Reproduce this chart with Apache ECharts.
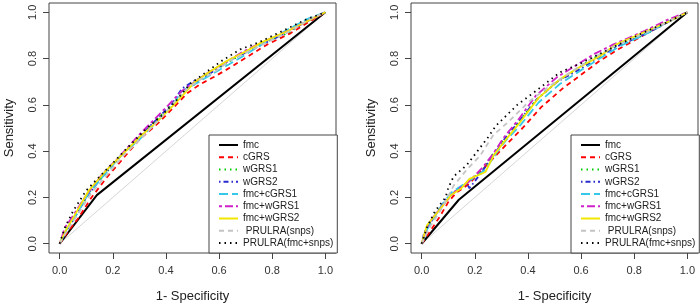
<!DOCTYPE html>
<html>
<head>
<meta charset="utf-8">
<script src="https://cdn.jsdelivr.net/npm/echarts@6/dist/echarts.min.js"></script>
<style>
  html, body { margin: 0; padding: 0; background: #fff; }
  #roc { width: 700px; height: 308px; }
</style>
</head>
<body>
<div id="roc"></div>
<script>
// legend names, in drawing order
var names = ['fmc', 'cGRS', 'wGRS1', 'wGRS2', 'fmc+cGRS1', 'fmc+wGRS1', 'fmc+wGRS2', ' PRULRA(snps)', 'PRULRA(fmc+snps)'];
var ticks = [0, 0.2, 0.4, 0.6, 0.8, 1.0];
var diagonal = [[0, 0], [1, 1]];

// left panel curves, [1-specificity, sensitivity]
var leftFmc = [[0, 0], [0.14, 0.21], [1, 1]];
var leftCgrs = [[0,0],[0.03,0.05],[0.07,0.11],[0.12,0.20],[0.18,0.29],[0.24,0.37],[0.30,0.45],[0.37,0.52],[0.43,0.59],[0.48,0.65],[0.53,0.69],[0.58,0.72],[0.64,0.76],[0.71,0.81],[0.78,0.86],[0.87,0.91],[0.94,0.96],[1,1]];
var leftWgrs1 = [[0,0],[0.02,0.06],[0.06,0.12],[0.11,0.22],[0.17,0.30],[0.23,0.38],[0.30,0.46],[0.36,0.53],[0.42,0.60],[0.47,0.66],[0.51,0.69],[0.57,0.74],[0.63,0.78],[0.70,0.83],[0.77,0.87],[0.86,0.91],[0.94,0.97],[1,1]];
var leftWgrs2 = [[0,0],[0.02,0.04],[0.05,0.10],[0.10,0.20],[0.16,0.29],[0.23,0.38],[0.29,0.45],[0.35,0.52],[0.42,0.60],[0.46,0.67],[0.50,0.70],[0.56,0.73],[0.62,0.78],[0.69,0.82],[0.76,0.86],[0.85,0.91],[0.93,0.96],[1,1]];
var leftFmcCgrs1 = [[0,0],[0.02,0.05],[0.06,0.12],[0.11,0.22],[0.17,0.30],[0.23,0.38],[0.30,0.45],[0.36,0.52],[0.42,0.59],[0.46,0.66],[0.51,0.69],[0.57,0.73],[0.63,0.77],[0.69,0.81],[0.76,0.86],[0.85,0.92],[0.93,0.97],[1,1]];
var leftFmcWgrs1 = [[0,0],[0.02,0.07],[0.05,0.12],[0.10,0.21],[0.16,0.30],[0.22,0.37],[0.29,0.46],[0.35,0.53],[0.41,0.60],[0.46,0.66],[0.51,0.70],[0.56,0.74],[0.62,0.78],[0.69,0.83],[0.76,0.87],[0.86,0.92],[0.93,0.96],[1,1]];
var leftFmcWgrs2 = [[0,0],[0.02,0.05],[0.06,0.13],[0.11,0.23],[0.17,0.31],[0.24,0.39],[0.30,0.46],[0.36,0.52],[0.43,0.60],[0.47,0.65],[0.51,0.70],[0.56,0.74],[0.63,0.79],[0.70,0.83],[0.76,0.87],[0.86,0.92],[0.93,0.96],[1,1]];
var leftSnps = [[0,0],[0.03,0.06],[0.07,0.13],[0.12,0.22],[0.18,0.30],[0.24,0.38],[0.31,0.46],[0.37,0.53],[0.43,0.61],[0.48,0.67],[0.53,0.71],[0.58,0.74],[0.64,0.79],[0.71,0.83],[0.78,0.87],[0.87,0.92],[0.94,0.97],[1,1]];
var leftFmcSnps = [[0,0],[0.02,0.07],[0.05,0.14],[0.10,0.23],[0.15,0.29],[0.21,0.36],[0.26,0.42],[0.32,0.49],[0.38,0.55],[0.44,0.62],[0.49,0.69],[0.55,0.74],[0.61,0.79],[0.68,0.84],[0.75,0.87],[0.84,0.92],[0.93,0.97],[1,1]];

// right panel curves
var rightFmc = [[0, 0], [0.14, 0.19], [1, 1]];
var rightCgrs = [[0,0],[0.03,0.05],[0.07,0.12],[0.10,0.18],[0.13,0.22],[0.18,0.26],[0.22,0.31],[0.27,0.37],[0.32,0.43],[0.38,0.50],[0.45,0.59],[0.53,0.67],[0.60,0.73],[0.67,0.79],[0.74,0.84],[0.85,0.91],[0.93,0.96],[1,1]];
var rightWgrs1 = [[0,0],[0.02,0.07],[0.06,0.14],[0.10,0.20],[0.14,0.24],[0.18,0.27],[0.23,0.32],[0.27,0.39],[0.31,0.45],[0.36,0.52],[0.43,0.62],[0.51,0.70],[0.59,0.76],[0.66,0.81],[0.73,0.85],[0.85,0.91],[0.93,0.96],[1,1]];
var rightWgrs2 = [[0,0],[0.01,0.05],[0.05,0.12],[0.09,0.19],[0.13,0.23],[0.17,0.26],[0.18,0.24],[0.22,0.30],[0.27,0.38],[0.31,0.45],[0.36,0.52],[0.43,0.62],[0.51,0.70],[0.59,0.75],[0.66,0.80],[0.73,0.85],[0.85,0.91],[0.93,0.96],[1,1]];
var rightFmcCgrs1 = [[0,0],[0.02,0.06],[0.06,0.14],[0.11,0.22],[0.15,0.25],[0.19,0.28],[0.24,0.32],[0.28,0.39],[0.32,0.45],[0.37,0.51],[0.44,0.61],[0.52,0.69],[0.60,0.75],[0.67,0.80],[0.74,0.85],[0.85,0.91],[0.93,0.96],[1,1]];
var rightFmcWgrs1 = [[0,0],[0.02,0.07],[0.04,0.11],[0.09,0.18],[0.13,0.23],[0.18,0.27],[0.23,0.33],[0.27,0.39],[0.31,0.46],[0.36,0.53],[0.43,0.64],[0.51,0.72],[0.58,0.77],[0.65,0.82],[0.72,0.86],[0.84,0.92],[0.93,0.97],[1,1]];
var rightFmcWgrs2 = [[0,0],[0.02,0.08],[0.07,0.15],[0.11,0.21],[0.15,0.24],[0.18,0.28],[0.24,0.31],[0.27,0.38],[0.31,0.44],[0.36,0.51],[0.44,0.63],[0.52,0.71],[0.59,0.76],[0.67,0.81],[0.73,0.86],[0.85,0.92],[0.93,0.96],[1,1]];
var rightSnps = [[0,0],[0.03,0.07],[0.08,0.16],[0.12,0.25],[0.17,0.32],[0.22,0.38],[0.27,0.47],[0.33,0.53],[0.40,0.61],[0.48,0.68],[0.56,0.74],[0.64,0.80],[0.72,0.85],[0.84,0.91],[0.93,0.96],[1,1]];
var rightFmcSnps = [[0,0],[0.02,0.07],[0.05,0.14],[0.09,0.20],[0.10,0.24],[0.12,0.29],[0.17,0.34],[0.21,0.40],[0.25,0.46],[0.28,0.51],[0.36,0.60],[0.43,0.66],[0.52,0.74],[0.60,0.78],[0.67,0.82],[0.74,0.86],[0.85,0.92],[0.93,0.96],[1,1]];

var leftCurves = [leftFmc, leftCgrs, leftWgrs1, leftWgrs2, leftFmcCgrs1, leftFmcWgrs1, leftFmcWgrs2, leftSnps, leftFmcSnps];
var rightCurves = [rightFmc, rightCgrs, rightWgrs1, rightWgrs2, rightFmcCgrs1, rightFmcWgrs1, rightFmcWgrs2, rightSnps, rightFmcSnps];

// R lty 1..6 then recycled
var colors = ['#000000', '#ff0000', '#00cd00', '#2a2ad0', '#36c8e8', '#d020c8', '#f2e600', '#c4c4c4', '#000000'];
var dashes = ['solid', [5, 4], [1.5, 4], [1.5, 3, 5, 3], [9, 4], [3, 3, 8, 3], 'solid', [5, 4], [1.5, 4]];

var font = 'Liberation Sans, Arial, sans-serif';

function makeSeries(curves, idx) {
  var out = [{
    type: 'line', name: 'diag', xAxisIndex: idx, yAxisIndex: idx,
    data: diagonal, symbol: 'none', silent: true,
    lineStyle: { color: '#d6d6d6', width: 1 }
  }];
  curves.forEach(function(c, i) {
    out.push({
      type: 'line',
      name: names[i],
      xAxisIndex: idx,
      yAxisIndex: idx,
      data: c,
      symbol: 'none',
      color: colors[i],
      lineStyle: { color: colors[i], width: i === 0 ? 2 : 1.8, type: dashes[i] }
    });
  });
  return out;
}

function xAx(idx) {
  return {
    gridIndex: idx, type: 'value', min: -0.04, max: 1.04,
    name: '1- Specificity', nameLocation: 'middle', nameGap: 37,
    nameTextStyle: { fontFamily: font, fontSize: 13, color: '#222' },
    axisLine: { show: false, onZero: false },
    splitLine: { show: false },
    axisTick: { show: true, length: 6, customValues: ticks, lineStyle: { color: '#444' } },
    axisLabel: { customValues: ticks, margin: 12, fontFamily: font, fontSize: 11, color: '#333',
      formatter: function(v) { return v.toFixed(1); } }
  };
}

function yAx(idx) {
  return {
    gridIndex: idx, type: 'value', min: -0.04, max: 1.04,
    name: 'Sensitivity', nameLocation: 'middle', nameGap: 33,
    nameTextStyle: { fontFamily: font, fontSize: 13, color: '#222' },
    axisLine: { show: false, onZero: false },
    splitLine: { show: false },
    axisTick: { show: true, length: 6, customValues: ticks, lineStyle: { color: '#444' } },
    axisLabel: { customValues: ticks, margin: 11, rotate: 90, fontFamily: font, fontSize: 11, color: '#333',
      formatter: function(v) { return v.toFixed(1); } }
  };
}

function legendAt(left) {
  return {
    orient: 'vertical', left: left, top: 135,
    data: names,
    itemWidth: 19, itemHeight: 10, itemGap: 2.25,
    padding: [5, 4, 5, 9],
    backgroundColor: '#fff', borderColor: '#444', borderWidth: 1, borderRadius: 0,
    selectedMode: false,
    itemStyle: { opacity: 0 },
    textStyle: { fontFamily: font, fontSize: 10, color: '#222', lineHeight: 10 }
  };
}

var chart = echarts.init(document.getElementById('roc'));
chart.setOption({
  backgroundColor: '#fff',
  animation: false,
  grid: [
    { left: 49, top: 3, width: 287, height: 251, show: true, borderColor: '#444', borderWidth: 1 },
    { left: 411, top: 3, width: 287, height: 251, show: true, borderColor: '#444', borderWidth: 1 }
  ],
  xAxis: [xAx(0), xAx(1)],
  yAxis: [yAx(0), yAx(1)],
  legend: [legendAt(209), legendAt(571)],
  series: makeSeries(leftCurves, 0).concat(makeSeries(rightCurves, 1))
});
</script>
</body>
</html>
